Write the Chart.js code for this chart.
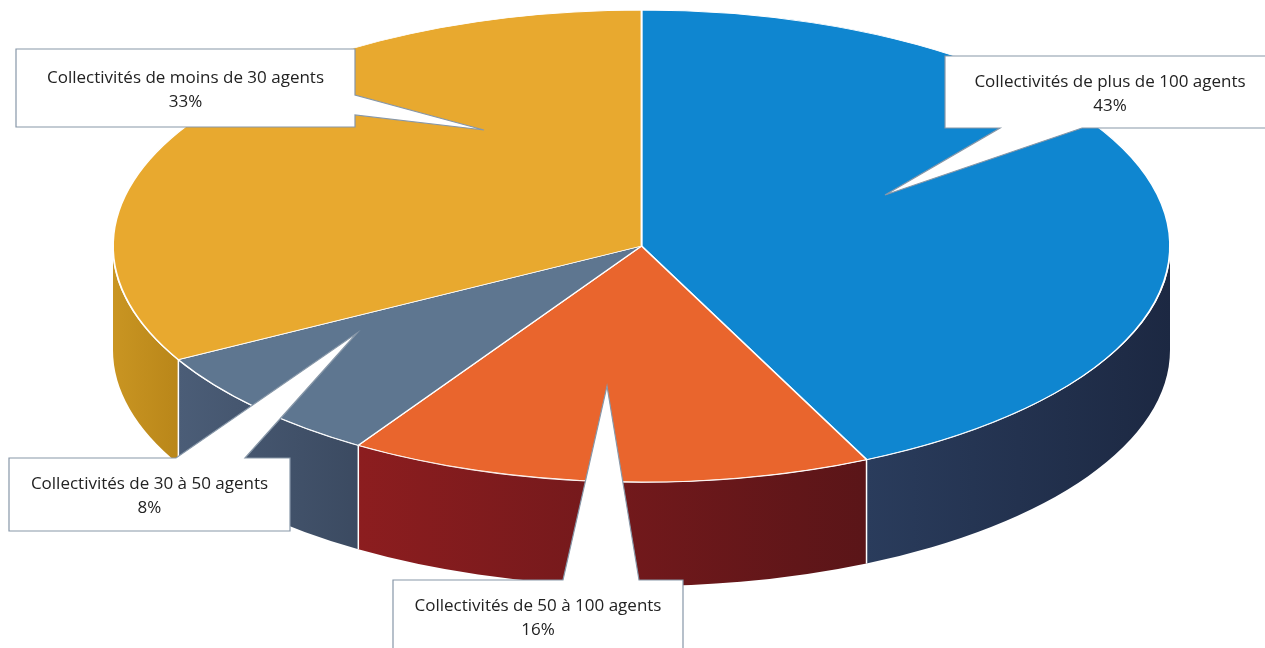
<!DOCTYPE html>
<html lang="fr">
<head>
<meta charset="utf-8">
<title>Répartition des collectivités</title>
<script src="https://cdn.jsdelivr.net/npm/chart.js@4/dist/chart.umd.min.js"></script>
<style>
    html, body { margin: 0; padding: 0; background: #fff; }
    canvas { display: block; }
</style>
</head>
<body>
<canvas id="grafico" width="1265" height="648"></canvas>
<script>
const categories = [
    'Collectivités de plus de 100 agents',
    'Collectivités de 50 à 100 agents',
    'Collectivités de 30 à 50 agents',
    'Collectivités de moins de 30 agents'
];
const valeurs = [43, 16, 8, 33];

const couleursDessus = ['#0f86d0', '#e9652d', '#5e7690', '#e8a92f'];
const couleursCote = [
    ['#2a3c5c', '#1c2842'],
    ['#8c1d1f', '#5a1518'],
    ['#4b5d77', '#3b4a61'],
    ['#c99522', '#b98619']
];

// epaisseur du "cylindre" en pixels
const EPAISSEUR = 104;

// bulles d'etiquettes : boite [x, y, l, h], cote du bec, base du bec, pointe
const bulles = [
    { boite: [945, 56, 330, 72], cote: 'bas', base: [1000, 1082], pointe: [885, 195] },
    { boite: [393, 580, 290, 72], cote: 'haut', base: [563, 639], pointe: [607, 386] },
    { boite: [9, 458, 281, 73], cote: 'haut', base: [176, 245], pointe: [357, 333] },
    { boite: [16, 49, 339, 78], cote: 'droite', base: [95, 115], pointe: [484, 130] }
];

function geometrie(chart) {
    const a = chart.chartArea;
    const rx = (a.right - a.left) / 2;
    const ry = (a.bottom - a.top - EPAISSEUR) / 2;
    return { cx: (a.left + a.right) / 2, cy: a.top + ry, rx, ry };
}

function degrade(ctx, geo, a, b, cores) {
    const x1 = geo.cx + geo.rx * Math.cos(b);
    const x2 = geo.cx + geo.rx * Math.cos(a);
    const g = ctx.createLinearGradient(Math.min(x1, x2), 0, Math.max(x1, x2) + 1, 0);
    g.addColorStop(0, cores[0]);
    g.addColorStop(1, cores[1]);
    return g;
}

const pie3d = {
    id: 'pie3d',
    beforeDatasetsDraw(chart) {
        const ctx = chart.ctx;
        const meta = chart.getDatasetMeta(0);
        const geo = geometrie(chart);

        // faces laterales visibles (demi-ellipse avant)
        ctx.save();
        meta.data.forEach((arc, i) => {
            const { startAngle, endAngle } = arc.getProps(['startAngle', 'endAngle'], true);
            const a = Math.max(startAngle, 0);
            const b = Math.min(endAngle, Math.PI);
            if (b <= a) return;
            ctx.beginPath();
            ctx.ellipse(geo.cx, geo.cy, geo.rx, geo.ry, 0, a, b);
            ctx.ellipse(geo.cx, geo.cy + EPAISSEUR, geo.rx, geo.ry, 0, b, a, true);
            ctx.closePath();
            ctx.fillStyle = degrade(ctx, geo, a, b, couleursCote[i]);
            ctx.fill();
        });
        ctx.strokeStyle = '#ffffff';
        ctx.lineWidth = 1.5;
        meta.data.forEach(arc => {
            const t = arc.startAngle;
            if (t <= 0 || t >= Math.PI) return;
            const px = geo.cx + geo.rx * Math.cos(t);
            const py = geo.cy + geo.ry * Math.sin(t);
            ctx.beginPath();
            ctx.moveTo(px, py);
            ctx.lineTo(px, py + EPAISSEUR);
            ctx.stroke();
        });
        ctx.beginPath();
        ctx.ellipse(geo.cx, geo.cy, geo.rx, geo.ry, 0, 0, Math.PI);
        ctx.stroke();
        ctx.restore();

        // le dessus : le camembert de Chart.js aplati en ellipse
        const arc0 = meta.data[0];
        ctx.save();
        ctx.translate(geo.cx, geo.cy);
        ctx.scale(geo.rx / arc0.outerRadius, geo.ry / arc0.outerRadius);
        ctx.translate(-arc0.x, -arc0.y);
    },
    afterDatasetsDraw(chart) {
        chart.ctx.restore();
    },
    afterDraw(chart) {
        const ctx = chart.ctx;
        const total = valeurs.reduce((s, v) => s + v, 0);
        ctx.save();
        bulles.forEach((bulle, i) => {
            const [x, y, l, h] = bulle.boite;
            const [b0, b1] = bulle.base;
            const [tx, ty] = bulle.pointe;
            ctx.beginPath();
            ctx.moveTo(x, y);
            if (bulle.cote === 'haut') { ctx.lineTo(b0, y); ctx.lineTo(tx, ty); ctx.lineTo(b1, y); }
            ctx.lineTo(x + l, y);
            if (bulle.cote === 'droite') { ctx.lineTo(x + l, b0); ctx.lineTo(tx, ty); ctx.lineTo(x + l, b1); }
            ctx.lineTo(x + l, y + h);
            if (bulle.cote === 'bas') { ctx.lineTo(b1, y + h); ctx.lineTo(tx, ty); ctx.lineTo(b0, y + h); }
            ctx.lineTo(x, y + h);
            ctx.closePath();
            ctx.fillStyle = '#ffffff';
            ctx.fill();
            ctx.strokeStyle = '#8797a8';
            ctx.lineWidth = 1.2;
            ctx.stroke();

            const milieu = y + h / 2 + 2;
            ctx.fillStyle = '#222222';
            ctx.font = '17px "Open Sans", sans-serif';
            ctx.textAlign = 'center';
            ctx.textBaseline = 'middle';
            ctx.fillText(categories[i], x + l / 2, milieu - 12);
            ctx.fillText(Math.round(valeurs[i] / total * 100) + '%', x + l / 2, milieu + 12);
        });
        ctx.restore();
    }
};

new Chart(document.getElementById('grafico'), {
    type: 'pie',
    data: {
        labels: categories,
        datasets: [{
            data: valeurs,
            backgroundColor: couleursDessus,
            borderColor: '#ffffff',
            borderWidth: 1,
            hoverOffset: 0,
            clip: false
        }]
    },
    options: {
        responsive: false,
        animation: false,
        events: [],
        layout: { padding: { left: 113, right: 95, top: 10, bottom: 62 } },
        plugins: {
            legend: { display: false },
            tooltip: { enabled: false }
        }
    },
    plugins: [pie3d]
});
</script>
</body>
</html>
